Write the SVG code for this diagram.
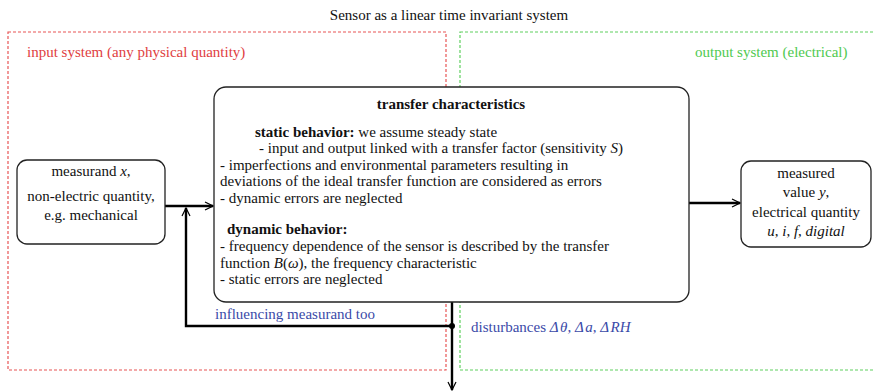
<svg xmlns="http://www.w3.org/2000/svg" width="873" height="392" viewBox="0 0 873 392">
  <style>
    text { font-family: "Liberation Serif", "Times New Roman", "DejaVu Serif", serif; font-size: 15px; fill: #111; }
    .mid { text-anchor: middle; }
    .b { font-weight: bold; }
    .i { font-style: italic; }
    .red { fill: #e0403f; }
    .grn { fill: #4fc94f; }
    .blu { fill: #3a4aa8; }
    .zone-in { fill: none; stroke: #e85555; stroke-width: 1.2; stroke-dasharray: 3 2; }
    .zone-out { fill: none; stroke: #5fd05f; stroke-width: 1.2; stroke-dasharray: 3 2; }
    .node { fill: #fff; stroke: #222; stroke-width: 1.3; }
    .wire { fill: none; stroke: #000; stroke-width: 2.4; }
  </style>
  <defs>
    <marker id="open" viewBox="0 0 10 10" refX="9" refY="5" markerWidth="10" markerHeight="10" markerUnits="userSpaceOnUse" orient="auto">
      <path d="M1,1 L9,5 L1,9" fill="none" stroke="#000" stroke-width="1.2"/>
    </marker>
  </defs>

  <rect width="873" height="392" fill="#fff"/>

  <text class="mid" x="449" y="20">Sensor as a linear time invariant system</text>

  <!-- system zones -->
  <g id="input-zone">
    <rect class="zone-in" x="8" y="32" width="438" height="338"/>
    <text class="red" x="27" y="57">input system (any physical quantity)</text>
  </g>
  <g id="output-zone">
    <rect class="zone-out" x="460" y="32" width="420" height="338"/>
    <text class="grn" x="695" y="57">output system (electrical)</text>
  </g>

  <!-- connectors -->
  <g id="connectors">
    <line class="wire" x1="165" y1="206" x2="213" y2="206" marker-end="url(#open)"/>
    <line class="wire" x1="689" y1="203" x2="740" y2="203" marker-end="url(#open)"/>
    <polyline class="wire" points="452,326 186,326 186,208" marker-end="url(#open)"/>
    <line class="wire" x1="452" y1="302" x2="452" y2="390" marker-end="url(#open)"/>
    <circle cx="452" cy="326" r="3" fill="#000"/>
    <text class="blu" x="215" y="319">influencing measurand too</text>
    <text class="blu" x="471" y="332">disturbances <tspan class="i">Δ</tspan><tspan class="i" dx="1.5">θ</tspan>, <tspan class="i">Δ</tspan><tspan class="i" dx="1.5">a</tspan>, <tspan class="i">Δ</tspan><tspan class="i" dx="1.5">RH</tspan></text>
  </g>

  <g id="measurand">
    <rect class="node" x="17" y="160" width="148" height="84" rx="10"/>
    <text class="mid" x="91" y="176">measurand <tspan class="i">x</tspan>,</text>
    <text class="mid" x="91" y="201">non-electric quantity,</text>
    <text class="mid" x="91" y="220">e.g. mechanical</text>
  </g>

  <g id="transfer">
    <rect class="node" x="214" y="87" width="475" height="215" rx="12"/>
    <text class="mid b" x="451" y="109">transfer characteristics</text>
    <text x="255" y="137"><tspan class="b">static behavior:</tspan> we assume steady state</text>
    <text x="259" y="153">- input and output linked with a transfer factor (sensitivity <tspan class="i">S</tspan>)</text>
    <text x="220" y="170">- imperfections and environmental parameters resulting in</text>
    <text x="220" y="186">deviations of the ideal transfer function are considered as errors</text>
    <text x="220" y="203">- dynamic errors are neglected</text>
    <text x="227" y="234" class="b">dynamic behavior:</text>
    <text x="220" y="251">- frequency dependence of the sensor is described by the transfer</text>
    <text x="220" y="268">function <tspan class="i">B</tspan>(<tspan class="i">ω</tspan>), the frequency characteristic</text>
    <text x="220" y="284">- static errors are neglected</text>
  </g>

  <g id="measured">
    <rect class="node" x="741" y="161" width="130" height="86" rx="10"/>
    <text class="mid" x="806" y="178">measured</text>
    <text class="mid" x="806" y="197">value <tspan class="i">y</tspan>,</text>
    <text class="mid" x="806" y="217">electrical quantity</text>
    <text class="mid" x="806" y="236"><tspan class="i">u</tspan>, <tspan class="i">i</tspan>, <tspan class="i">f</tspan>, <tspan class="i">digital</tspan></text>
  </g>
</svg>
